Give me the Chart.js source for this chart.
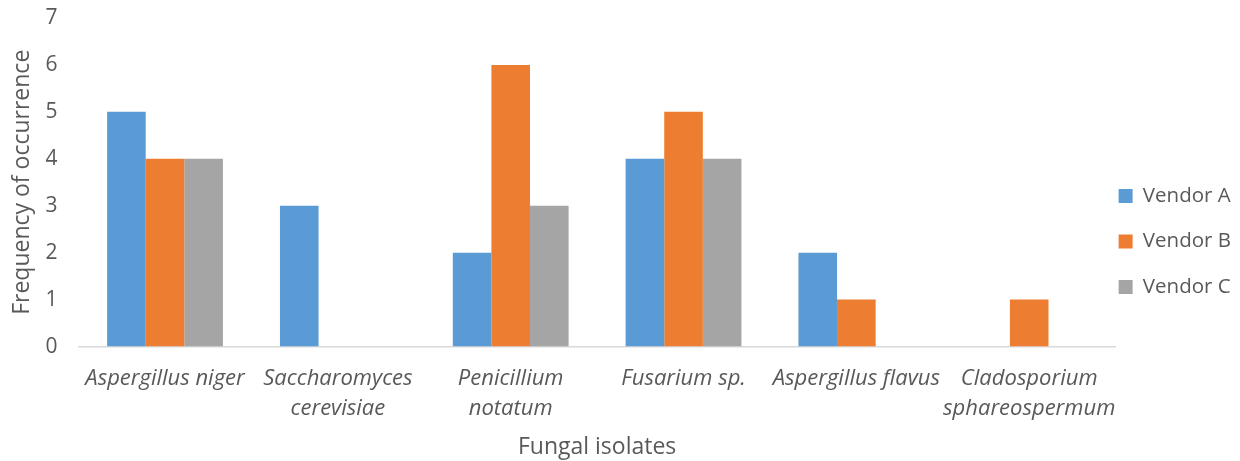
<!DOCTYPE html>
<html>
<head>
<meta charset="utf-8">
<script src="https://cdn.jsdelivr.net/npm/chart.js@4"></script>
<style>
  html, body { margin: 0; padding: 0; background: #fff; }
  #wrap { width: 1240px; height: 461px; }
</style>
</head>
<body>
<div id="wrap"><canvas id="chart"></canvas></div>
<script>
"use strict";

// Data
const isolates = [
  "Aspergillus niger",
  ["Saccharomyces", "cerevisiae"],
  ["Penicillium", "notatum"],
  "Fusarium sp.",
  "Aspergillus flavus",
  ["Cladosporium", "sphareospermum"],
];
const vendorA = [5, 3, 2, 4, 2, 0];
const vendorB = [4, 0, 6, 5, 1, 1];
const vendorC = [4, 0, 3, 4, 0, 0];
const yTicks = [0, 1, 2, 3, 4, 5, 6, 7];

const textColor = "#595959";
const fontFamily = "'Open Sans', sans-serif";

// Excel-style legend: sits close to the plot
const legendNudge = {
  id: "legendNudge",
  afterLayout(chart) {
    const lg = chart.legend;
    lg.left -= 22;
    lg.right -= 22;
    lg.top += 2;
    lg.bottom += 2;
  },
};

new Chart(document.getElementById("chart"), {
  type: "bar",
  data: {
    labels: isolates,
    datasets: [
      { label: "Vendor A", data: vendorA, backgroundColor: "#5b9bd5" },
      { label: "Vendor B", data: vendorB, backgroundColor: "#ed7d31" },
      { label: "Vendor C", data: vendorC, backgroundColor: "#a5a5a5" },
    ],
  },
  options: {
    responsive: true,
    maintainAspectRatio: false,
    animation: false,
    layout: { padding: { top: 18, right: -23, left: 9, bottom: 0 } },
    datasets: {
      bar: { categoryPercentage: 0.67, barPercentage: 1.0 },
    },
    scales: {
      x: {
        // tick marks hidden, tickLength only spaces the labels
        grid: { display: false, drawTicks: true, tickLength: 17 },
        border: { color: "#d9d9d9", width: 1.5 },
        ticks: {
          color: textColor,
          font: { family: fontFamily, size: 22, style: "italic", lineHeight: 1.36 },
          maxRotation: 0,
          autoSkip: false,
          padding: 0,
        },
        title: {
          display: true,
          text: "Fungal isolates",
          color: textColor,
          font: { family: fontFamily, size: 23 },
          padding: { top: 10, bottom: 0 },
        },
      },
      y: {
        min: 0,
        max: 7,
        afterBuildTicks: (axis) => {
          axis.ticks = yTicks.map((v) => ({ value: v }));
        },
        grid: { display: false, drawTicks: true, tickLength: 21 },
        border: { display: false },
        ticks: {
          color: textColor,
          font: { family: fontFamily, size: 21 },
          padding: 0,
        },
        title: {
          display: true,
          text: "Frequency of occurrence",
          color: textColor,
          font: { family: fontFamily, size: 23 },
          padding: { top: 0, bottom: 9 },
        },
      },
    },
    plugins: {
      legend: {
        position: "right",
        labels: {
          color: textColor,
          font: { family: fontFamily, size: 20.5 },
          boxWidth: 14,
          boxHeight: 14,
          padding: 25,
        },
      },
      tooltip: { enabled: false },
    },
  },
  plugins: [legendNudge],
});
</script>
</body>
</html>
